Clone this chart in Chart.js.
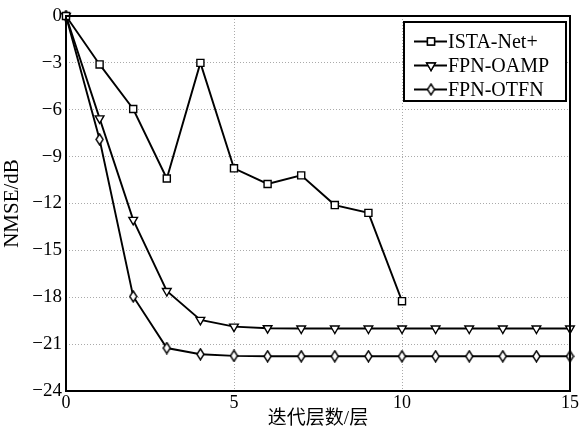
<!DOCTYPE html>
<html>
<head>
<meta charset="utf-8">
<script src="https://cdn.jsdelivr.net/npm/chart.js@4/dist/chart.umd.min.js"></script>
<style>
  body { margin: 0; background: #fff; }
  canvas { display: block; }
</style>
</head>
<body>
<canvas id="nmseChart" width="580" height="430"></canvas>
<script>
// datos
const layers = [0, 1, 2, 3, 4, 5, 6, 7, 8, 9, 10, 11, 12, 13, 14, 15];
const istaNet = [0, -3.1, -5.95, -10.4, -3.0, -9.75, -10.75, -10.2, -12.1, -12.6, -18.25];
const fpnOamp = [0, -6.55, -13.05, -17.6, -19.45, -19.88, -19.98, -20.0, -20.0, -20.0, -20.0, -20.0, -20.0, -20.0, -20.0, -20.0];
const fpnOtfn = [0, -7.9, -17.95, -21.25, -21.65, -21.75, -21.78, -21.78, -21.78, -21.78, -21.78, -21.78, -21.78, -21.78, -21.78, -21.78];
const seriesNames = ['ISTA-Net+', 'FPN-OAMP', 'FPN-OTFN'];
const yTicks = [0, -3, -6, -9, -12, -15, -18, -21, -24];

const serif = "'Liberation Serif', 'DejaVu Serif', serif";
const cjk = "'Liberation Serif', 'Noto Sans CJK SC', serif";

// marcador en forma de rombo estrecho
function diamondCanvas() {
  const c = document.createElement('canvas');
  c.width = 9; c.height = 13;
  const g = c.getContext('2d');
  g.fillStyle = '#fff';
  g.strokeStyle = '#000';
  g.lineWidth = 1.4;
  g.beginPath();
  g.moveTo(4.5, 1); g.lineTo(8, 6.5); g.lineTo(4.5, 12); g.lineTo(1, 6.5); g.closePath();
  g.fill(); g.stroke();
  return c;
}
const diamond = diamondCanvas();

function toPoints(values) {
  return values.map((v, i) => ({ x: layers[i], y: v }));
}

const markers = [
  { pointStyle: 'rect', radius: 5, rotation: 0 },
  { pointStyle: 'triangle', radius: 5, rotation: 180 },
  { pointStyle: diamond, radius: 5, rotation: 0 },
];

// caja del gráfico y leyenda dibujadas a mano
const framePlugin = {
  id: 'frame',
  afterDraw(chart) {
    const { ctx, chartArea: a } = chart;
    ctx.save();
    ctx.strokeStyle = '#000';
    ctx.lineWidth = 2;
    ctx.strokeRect(a.left, a.top, a.right - a.left, a.bottom - a.top);

    // leyenda
    const bx = 404, by = 22, bw = 162, bh = 79;
    ctx.fillStyle = '#fff';
    ctx.fillRect(bx, by, bw, bh);
    ctx.lineWidth = 2;
    ctx.strokeRect(bx, by, bw, bh);
    ctx.font = '20px ' + serif;
    ctx.textBaseline = 'middle';
    seriesNames.forEach((name, i) => {
      const y = 41.5 + i * 24;
      ctx.strokeStyle = '#000';
      ctx.lineWidth = 2;
      ctx.beginPath();
      ctx.moveTo(414, y); ctx.lineTo(447, y); ctx.stroke();
      const m = markers[i];
      ctx.fillStyle = '#fff';
      ctx.lineWidth = 1.4;
      Chart.helpers.drawPoint(ctx, { pointStyle: m.pointStyle, radius: m.radius, rotation: m.rotation, borderWidth: 1.4 }, 431, y);
      if (m.pointStyle === 'rect' || m.pointStyle === 'triangle') {
        ctx.fill(); ctx.stroke();
      }
      ctx.fillStyle = '#000';
      ctx.fillText(name, 448, y + 1);
    });
    ctx.restore();
  }
};

function dataset(label, values, m) {
  return {
    label: label,
    data: toPoints(values),
    borderColor: '#000',
    borderWidth: 1.9,
    backgroundColor: '#fff',
    pointStyle: m.pointStyle,
    pointRotation: m.rotation,
    pointRadius: m.radius,
    pointBorderWidth: 1.4,
    pointBorderColor: '#000',
    pointBackgroundColor: '#fff',
    tension: 0,
  };
}

const ctx = document.getElementById('nmseChart').getContext('2d');
const nmseChart = new Chart(ctx, {
  type: 'line',
  data: {
    datasets: [
      dataset(seriesNames[0], istaNet, markers[0]),
      dataset(seriesNames[1], fpnOamp, markers[1]),
      dataset(seriesNames[2], fpnOtfn, markers[2]),
    ],
  },
  options: {
    responsive: false,
    animation: false,
    clip: false,
    layout: { padding: { top: 16, right: 10, left: 0, bottom: 0 } },
    plugins: {
      legend: { display: false },
      tooltip: { enabled: false },
    },
    scales: {
      x: {
        type: 'linear',
        min: 0,
        max: 15,
        ticks: {
          stepSize: 5,
          color: '#000',
          font: { family: serif, size: 18 },
          padding: 1,
        },
        grid: { color: '#aaa', lineWidth: 1, drawTicks: false },
        border: { display: false, dash: [1, 2] },
        title: {
          display: true,
          text: '迭代层数/层',
          color: '#000',
          font: { family: cjk, size: 19 },
          padding: { top: 0, bottom: 0 },
        },
        afterFit(scale) { scale.height = 39; },
      },
      y: {
        min: -24,
        max: 0,
        afterBuildTicks(scale) { scale.ticks = yTicks.map(v => ({ value: v })); },
        ticks: {
          color: '#000',
          font: { family: serif, size: 19 },
          padding: 4,
          callback: v => String(v).replace('-', '\u2212'),
        },
        grid: { color: '#aaa', lineWidth: 1, drawTicks: false },
        border: { display: false, dash: [1, 2] },
        title: {
          display: true,
          text: 'NMSE/dB',
          color: '#000',
          font: { family: serif, size: 21 },
          padding: { top: 0, bottom: 2 },
        },
        afterFit(scale) { scale.width = 66; },
      },
    },
  },
  plugins: [framePlugin],
});
</script>
</body>
</html>
